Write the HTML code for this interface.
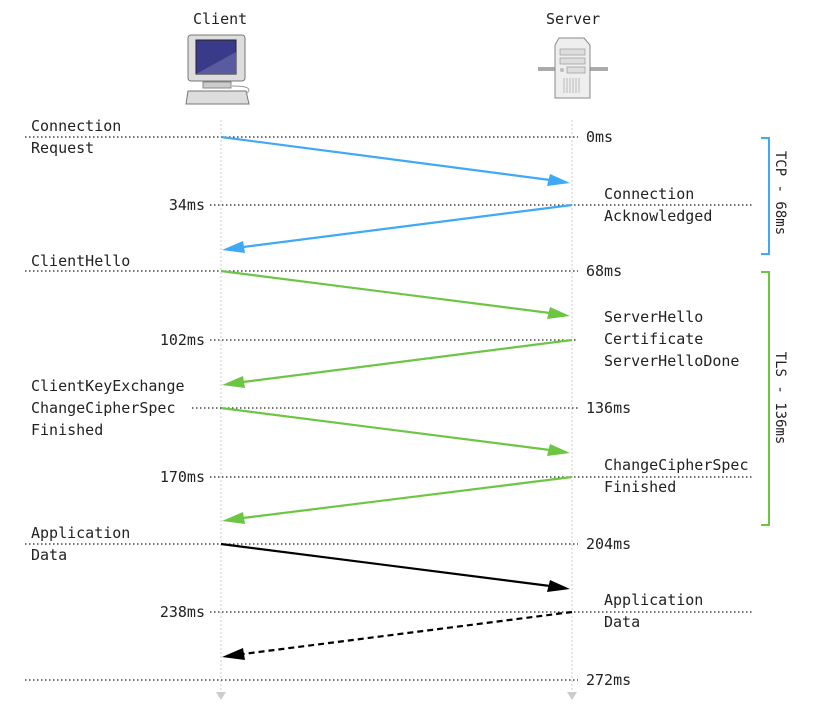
<!DOCTYPE html>
<html><head><meta charset="utf-8"><style>
html,body{margin:0;padding:0;background:#fff;}
svg{display:block}
text{font-family:"DejaVu Sans Mono","Liberation Mono",monospace;font-size:15px;fill:#222}
.d{stroke:#222;stroke-width:1.3;stroke-dasharray:1.5 2.5}
.v{stroke:#ccc;stroke-width:1;stroke-dasharray:2 2}
</style></head><body>
<svg width="816" height="704" viewBox="0 0 816 704" xmlns="http://www.w3.org/2000/svg">
<line class="v" x1="221" y1="120" x2="221" y2="690"/>
<line class="v" x1="572" y1="120" x2="572" y2="690"/>
<path d="M216,692 L226,692 L221,700 Z" fill="#ccc"/>
<path d="M567,692 L577,692 L572,700 Z" fill="#ccc"/>
<text x="193" y="24">Client</text>
<text x="546" y="24">Server</text>
<g>
<rect x="188" y="35" width="57" height="46" rx="3" fill="#ddd" stroke="#777"/>
<rect x="196" y="40" width="40" height="34" fill="#3a3a8a" stroke="#222"/>
<path d="M196,74 L236,52 L236,74 Z" fill="#5a5aa0"/>
<rect x="203" y="82" width="28" height="6" fill="#ccc" stroke="#888"/>
<path d="M188,91 L246,91 L249,104 L186,104 Z" fill="#ddd" stroke="#777"/>
<path d="M232,86 Q256,86 246,94" fill="none" stroke="#999"/>
</g>
<g>
<line x1="538" y1="69" x2="608" y2="69" stroke="#aaa" stroke-width="4"/>
<path d="M559,38 L584,38 L590,45 L590,98 L555,98 L555,45 Z" fill="#eee" stroke="#888"/>
<rect x="560" y="49" width="25" height="6" fill="#ddd" stroke="#999" stroke-width="0.7"/>
<rect x="560" y="58" width="25" height="6" fill="#ddd" stroke="#999" stroke-width="0.7"/>
<rect x="567" y="67" width="18" height="6" fill="#ddd" stroke="#999" stroke-width="0.7"/>
<circle cx="562" cy="70" r="2" fill="#bbb"/>
<path d="M564,78 V93 M567,78 V93 M570,78 V93 M573,78 V93 M576,78 V93 M579,78 V93" stroke="#bbb"/>
</g>
<line class="d" x1="25" y1="137" x2="578" y2="137"/><text x="586" y="142">0ms</text>
<line class="d" x1="210" y1="205" x2="752" y2="205"/><text x="205" y="210" text-anchor="end">34ms</text>
<line class="d" x1="25" y1="271" x2="578" y2="271"/><text x="586" y="276">68ms</text>
<line class="d" x1="210" y1="340" x2="578" y2="340"/><text x="205" y="345" text-anchor="end">102ms</text>
<line class="d" x1="192" y1="408" x2="578" y2="408"/><text x="586" y="413">136ms</text>
<line class="d" x1="210" y1="477" x2="752" y2="477"/><text x="205" y="482" text-anchor="end">170ms</text>
<line class="d" x1="25" y1="544" x2="578" y2="544"/><text x="586" y="549">204ms</text>
<line class="d" x1="210" y1="612" x2="752" y2="612"/><text x="205" y="617" text-anchor="end">238ms</text>
<line class="d" x1="25" y1="680" x2="578" y2="680"/><text x="586" y="685">272ms</text>
<text x="31" y="131">Connection</text><text x="31" y="153">Request</text>
<text x="604" y="199">Connection</text><text x="604" y="221">Acknowledged</text>
<text x="31" y="266">ClientHello</text>
<text x="604" y="322">ServerHello</text><text x="604" y="344">Certificate</text><text x="604" y="366">ServerHelloDone</text>
<text x="31" y="391">ClientKeyExchange</text><text x="31" y="413">ChangeCipherSpec</text><text x="31" y="435">Finished</text>
<text x="604" y="470">ChangeCipherSpec</text><text x="604" y="492">Finished</text>
<text x="31" y="538">Application</text><text x="31" y="560">Data</text>
<text x="604" y="605">Application</text><text x="604" y="627">Data</text>
<g stroke-width="2.2" fill="none">
<line x1="221" y1="137" x2="550" y2="180" stroke="#3fa9f5"/>
<line x1="572" y1="205" x2="243" y2="247" stroke="#3fa9f5"/>
<line x1="221" y1="271" x2="550" y2="313" stroke="#6cc644"/>
<line x1="572" y1="340" x2="243" y2="382" stroke="#6cc644"/>
<line x1="221" y1="408" x2="550" y2="450" stroke="#6cc644"/>
<line x1="572" y1="477" x2="243" y2="518" stroke="#6cc644"/>
<line x1="221" y1="544" x2="550" y2="586" stroke="#000"/>
<line x1="572" y1="612" x2="243" y2="654" stroke="#000" stroke-dasharray="6 4"/>
</g>
<path d="M570,183 L547,186 L550,174 Z" fill="#3fa9f5"/>
<path d="M222,250 L243,241 L245,253 Z" fill="#3fa9f5"/>
<path d="M570,316 L547,319 L550,307 Z" fill="#6cc644"/>
<path d="M222,385 L243,376 L245,388 Z" fill="#6cc644"/>
<path d="M570,453 L547,456 L550,444 Z" fill="#6cc644"/>
<path d="M222,521 L243,512 L245,524 Z" fill="#6cc644"/>
<path d="M570,589 L547,592 L550,580 Z" fill="#000"/>
<path d="M222,657 L243,648 L245,660 Z" fill="#000"/>
<path d="M761,138 H769 V254 H761" fill="none" stroke="#3fa9f5" stroke-width="2"/>
<path d="M761,272 H769 V525 H761" fill="none" stroke="#6cc644" stroke-width="2"/>
<text transform="translate(776,193) rotate(90)" text-anchor="middle" xml:space="preserve" style="font-size:14px">TCP - 68ms</text>
<text transform="translate(776,398) rotate(90)" text-anchor="middle" xml:space="preserve" style="font-size:14px">TLS - 136ms</text>
</svg>
</body></html>
